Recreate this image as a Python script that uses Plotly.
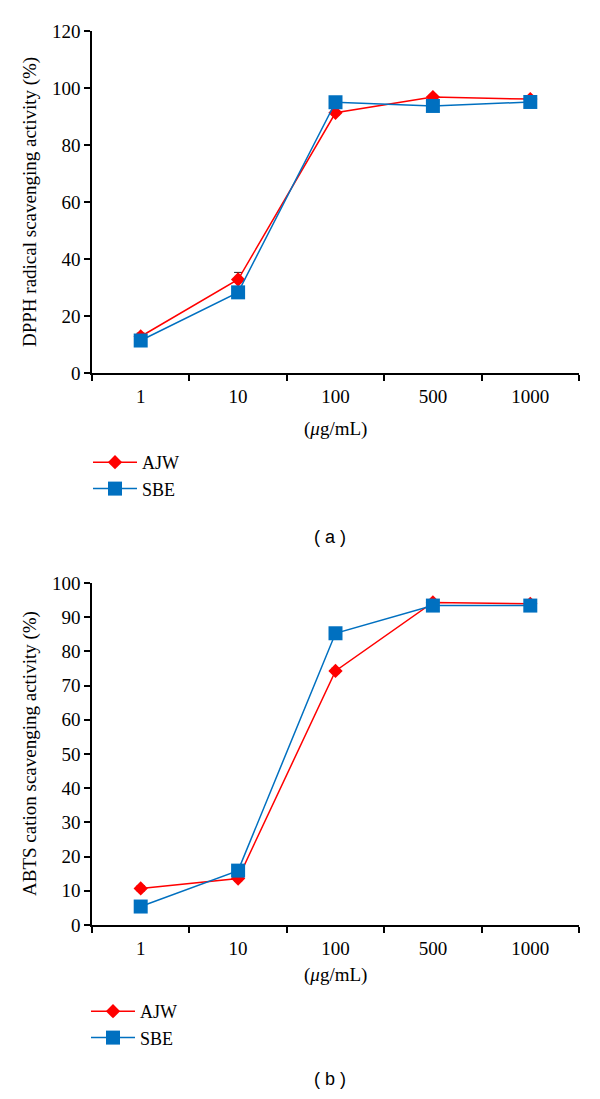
import plotly.graph_objects as go

categories = ["1", "10", "100", "500", "1000"]

dpph_ajw = [12.8, 32.8, 91.3, 96.8, 96.1]
dpph_ajw_err = [1.2, 2.5, 0.8, 0.8, 0.8]
dpph_sbe = [11.4, 28.3, 95.0, 93.7, 95.1]
dpph_sbe_err = [0.6, 0.8, 0.5, 0.5, 0.5]

abts_ajw = [10.7, 13.6, 74.3, 94.3, 93.9]
abts_ajw_err = [0.8, 0.8, 0.8, 0.8, 0.8]
abts_sbe = [5.4, 15.9, 85.3, 93.4, 93.4]
abts_sbe_err = [0.5, 0.5, 0.5, 0.5, 0.5]

dpph_ticks = [0, 20, 40, 60, 80, 100, 120]
abts_ticks = [0, 10, 20, 30, 40, 50, 60, 70, 80, 90, 100]

RED = "#FF0000"
BLUE = "#0070C0"
SERIF = "Liberation Serif"
OFF = 8  # page body margin
W, H = 600 - 2 * OFF, 1099 - 2 * OFF
L, T = 92 - OFF, 31 - OFF
R = W - (579 - OFF)
B = H - (925 - OFF)
PW = W - L - R
PH = H - T - B


def py(pix):
    return (H - B - (pix - OFF)) / PH


def px(pix):
    return ((pix - OFF) - L) / PW


fig = go.Figure()


def add_pair(ajw, ajw_err, sbe, sbe_err, xa, ya, leg):
    fig.add_trace(go.Scatter(
        x=categories, y=ajw, name="AJW", mode="lines+markers",
        line=dict(color=RED, width=1.5),
        marker=dict(symbol="diamond", size=11, color=RED),
        error_y=dict(type="data", array=ajw_err, color="#222222", thickness=1, width=4),
        xaxis=xa, yaxis=ya, legend=leg))
    fig.add_trace(go.Scatter(
        x=categories, y=sbe, name="SBE", mode="lines+markers",
        line=dict(color=BLUE, width=1.5),
        marker=dict(symbol="square", size=14, color=BLUE),
        error_y=dict(type="data", array=sbe_err, color="#222222", thickness=1, width=4),
        xaxis=xa, yaxis=ya, legend=leg))


add_pair(dpph_ajw, dpph_ajw_err, dpph_sbe, dpph_sbe_err, "x", "y", "legend")
add_pair(abts_ajw, abts_ajw_err, abts_sbe, abts_sbe_err, "x2", "y2", "legend2")

axis_common = dict(showline=True, linecolor="black", linewidth=1.5, ticks="outside",
                   ticklen=6, tickwidth=1.5, tickcolor="black", showgrid=False,
                   zeroline=False, tickfont=dict(family=SERIF, size=19, color="black"))

top_dom = [py(373), 1.0]
bot_dom = [0.0, py(583)]

legend_common = dict(xanchor="left", yanchor="top", itemwidth=44,
                     font=dict(family=SERIF, size=18, color="black"),
                     bgcolor="rgba(0,0,0,0)", tracegroupgap=0)

fig.update_layout(
    width=W, height=H,
    margin=dict(l=L, r=R, t=T, b=B),
    paper_bgcolor="white", plot_bgcolor="white",
    font=dict(family=SERIF, size=19, color="black"),
    xaxis=dict(type="category", tickson="boundaries", range=[-0.5, 4.5], anchor="y",
               ticklabelstandoff=5, **axis_common),
    yaxis=dict(domain=top_dom, range=[0, 120], tickvals=dpph_ticks, anchor="x", **axis_common),
    xaxis2=dict(type="category", tickson="boundaries", range=[-0.5, 4.5], anchor="y2",
                ticklabelstandoff=5, **axis_common),
    yaxis2=dict(domain=bot_dom, range=[0, 100], tickvals=abts_ticks, anchor="x2", **axis_common),
    legend=dict(x=px(88), y=py(444), **legend_common),
    legend2=dict(x=px(86), y=py(993), **legend_common),
    showlegend=True,
)

ann = []
for ypix in (429, 975):
    ann.append(dict(text="(<i>μ</i>g/mL)", x=0.5, y=py(ypix), xref="paper", yref="paper",
                    showarrow=False, font=dict(family=SERIF, size=19, color="black"),
                    xanchor="center", yanchor="middle"))
ann.append(dict(text="DPPH radical scavenging activity (%)", x=px(30), y=py(202),
                xref="paper", yref="paper", showarrow=False, textangle=-90,
                font=dict(family=SERIF, size=19, color="black"),
                xanchor="center", yanchor="middle"))
ann.append(dict(text="ABTS cation scavenging activity (%)", x=px(30), y=py(754),
                xref="paper", yref="paper", showarrow=False, textangle=-90,
                font=dict(family=SERIF, size=19, color="black"),
                xanchor="center", yanchor="middle"))
for lab, ypix in (("( a )", 537), ("( b )", 1079)):
    ann.append(dict(text=lab, x=px(330), y=py(ypix), xref="paper", yref="paper",
                    showarrow=False, font=dict(family="Liberation Sans", size=18, color="black"),
                    xanchor="center", yanchor="middle"))
fig.update_layout(annotations=ann)

fig.write_html("out.html")
